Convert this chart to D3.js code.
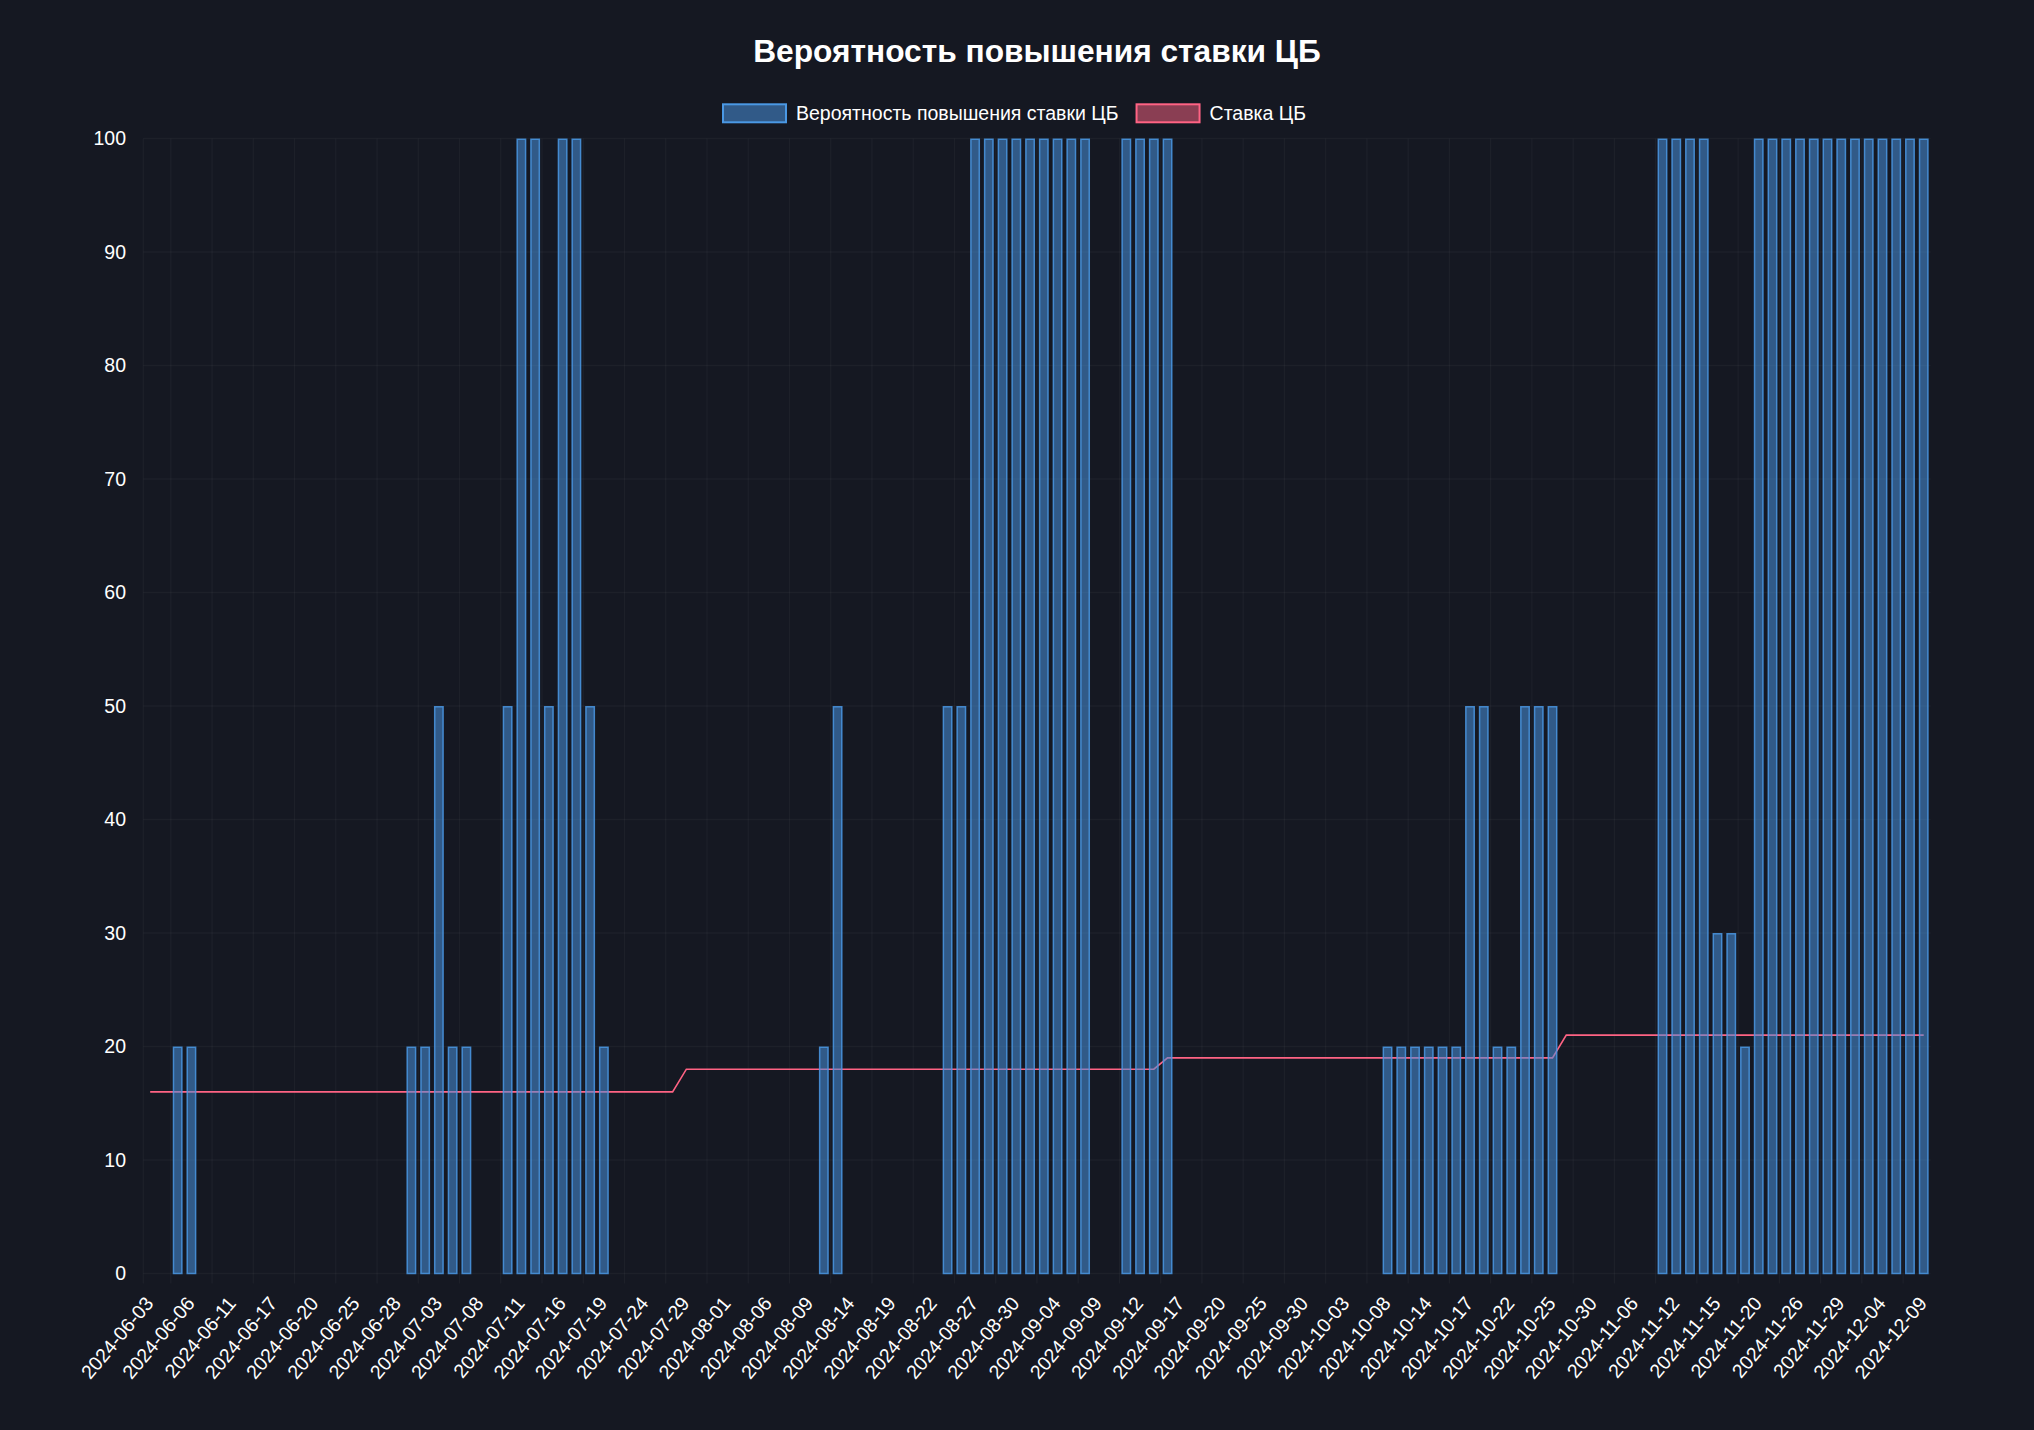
<!DOCTYPE html>
<html>
<head>
<meta charset="utf-8">
<script src="https://cdn.jsdelivr.net/npm/d3@7"></script>
<style>
  html, body { margin: 0; padding: 0; background: #151822; }
  svg { display: block; }
  text { font-family: "Liberation Sans", Arial, Helvetica, sans-serif; fill: #ffffff; }
</style>
</head>
<body>
<svg id="chart" width="2034" height="1430"></svg>
<script>
// ---------------- DATA ----------------
const chartTitle = "Вероятность повышения ставки ЦБ";
const seriesNames = ["Вероятность повышения ставки ЦБ", "Ставка ЦБ"];

const dates = [
  "2024-06-03","2024-06-04","2024-06-05","2024-06-06","2024-06-07","2024-06-10","2024-06-11","2024-06-13","2024-06-14","2024-06-17",
  "2024-06-18","2024-06-19","2024-06-20","2024-06-21","2024-06-24","2024-06-25","2024-06-26","2024-06-27","2024-06-28","2024-07-01",
  "2024-07-02","2024-07-03","2024-07-04","2024-07-05","2024-07-08","2024-07-09","2024-07-10","2024-07-11","2024-07-12","2024-07-15",
  "2024-07-16","2024-07-17","2024-07-18","2024-07-19","2024-07-22","2024-07-23","2024-07-24","2024-07-25","2024-07-26","2024-07-29",
  "2024-07-30","2024-07-31","2024-08-01","2024-08-02","2024-08-05","2024-08-06","2024-08-07","2024-08-08","2024-08-09","2024-08-12",
  "2024-08-13","2024-08-14","2024-08-15","2024-08-16","2024-08-19","2024-08-20","2024-08-21","2024-08-22","2024-08-23","2024-08-26",
  "2024-08-27","2024-08-28","2024-08-29","2024-08-30","2024-09-02","2024-09-03","2024-09-04","2024-09-05","2024-09-06","2024-09-09",
  "2024-09-10","2024-09-11","2024-09-12","2024-09-13","2024-09-16","2024-09-17","2024-09-18","2024-09-19","2024-09-20","2024-09-23",
  "2024-09-24","2024-09-25","2024-09-26","2024-09-27","2024-09-30","2024-10-01","2024-10-02","2024-10-03","2024-10-04","2024-10-07",
  "2024-10-08","2024-10-09","2024-10-10","2024-10-14","2024-10-15","2024-10-16","2024-10-17","2024-10-18","2024-10-21","2024-10-22",
  "2024-10-23","2024-10-24","2024-10-25","2024-10-28","2024-10-29","2024-10-30","2024-10-31","2024-11-05","2024-11-06","2024-11-07",
  "2024-11-11","2024-11-12","2024-11-13","2024-11-14","2024-11-15","2024-11-18","2024-11-19","2024-11-20","2024-11-21","2024-11-25",
  "2024-11-26","2024-11-27","2024-11-28","2024-11-29","2024-12-02","2024-12-03","2024-12-04","2024-12-05","2024-12-06","2024-12-09"
];

const probability = [
  0,0,20,20,0,0,0,0,0,0,
  0,0,0,0,0,0,0,0,0,20,
  20,50,20,20,0,0,50,100,100,50,
  100,100,50,20,0,0,0,0,0,0,
  0,0,0,0,0,0,0,0,0,20,
  50,0,0,0,0,0,0,0,50,50,
  100,100,100,100,100,100,100,100,100,0,
  0,100,100,100,100,0,0,0,0,0,
  0,0,0,0,0,0,0,0,0,0,
  20,20,20,20,20,20,50,50,20,20,
  50,50,50,0,0,0,0,0,0,0,
  100,100,100,100,30,30,20,100,100,100,
  100,100,100,100,100,100,100,100,100,100
];

const keyRate = [
  16,16,16,16,16,16,16,16,16,16,
  16,16,16,16,16,16,16,16,16,16,
  16,16,16,16,16,16,16,16,16,16,
  16,16,16,16,16,16,16,16,16,18,
  18,18,18,18,18,18,18,18,18,18,
  18,18,18,18,18,18,18,18,18,18,
  18,18,18,18,18,18,18,18,18,18,
  18,18,18,18,19,19,19,19,19,19,
  19,19,19,19,19,19,19,19,19,19,
  19,19,19,19,19,19,19,19,19,19,
  19,19,19,21,21,21,21,21,21,21,
  21,21,21,21,21,21,21,21,21,21,
  21,21,21,21,21,21,21,21,21,21
];

const yTicks = [0,10,20,30,40,50,60,70,80,90,100];
const xLabelStep = 3;

// ---------------- LAYOUT ----------------
const W = 2034, H = 1430;
const plot = { left: 143.3, right: 1930.6, top: 138.5, bottom: 1273.5 };
const colors = {
  bg: "#151822",
  grid: "rgba(255,255,255,0.035)",
  barFill: "rgba(72,145,220,0.55)",
  barStroke: "rgb(74,152,228)",
  lineStroke: "rgb(255,99,132)",
  lineFill: "rgba(255,99,132,0.5)"
};
const fontSize = 19.5;

const svg = d3.select("#chart");
svg.append("rect").attr("width", W).attr("height", H).attr("fill", colors.bg);

const x = d3.scaleBand().domain(dates).range([plot.left, plot.right]).padding(0);
const y = d3.scaleLinear().domain([0, 100]).range([plot.bottom, plot.top]);
const bw = x.bandwidth();

// grid (horizontal)
const gGrid = svg.append("g");
gGrid.selectAll("line.h").data(yTicks).join("line")
  .attr("x1", plot.left).attr("x2", plot.right)
  .attr("y1", d => y(d)).attr("y2", d => y(d))
  .attr("stroke", colors.grid).attr("stroke-width", 1.3);

// x ticks: every 3rd label; grid lines halfway between shown ticks (Chart.js offset grid)
const shownIdx = dates.map((d, i) => i).filter(i => i % xLabelStep === 0);
const gridIdx = shownIdx.filter(i => i > 0);
const gridX = i => x(dates[i]) + bw / 2 - bw * xLabelStep / 2;
gGrid.selectAll("line.v").data(gridIdx).join("line")
  .attr("x1", gridX).attr("x2", gridX)
  .attr("y1", plot.top).attr("y2", plot.bottom + 10)
  .attr("stroke", colors.grid).attr("stroke-width", 1.3);
// left border
gGrid.append("line")
  .attr("x1", plot.left).attr("x2", plot.left)
  .attr("y1", plot.top).attr("y2", plot.bottom + 10)
  .attr("stroke", colors.grid).attr("stroke-width", 1.3);

// y tick labels
svg.append("g").selectAll("text").data(yTicks).join("text")
  .attr("x", 126).attr("y", d => y(d))
  .attr("dy", "0.35em")
  .attr("text-anchor", "end")
  .attr("font-size", fontSize)
  .text(d => d);

// x tick labels
svg.append("g").selectAll("text").data(shownIdx).join("text")
  .attr("transform", i => `translate(${x(dates[i]) + bw / 2 - 1},${plot.bottom + 26}) rotate(-50)`)
  .attr("text-anchor", "end")
  .attr("dy", "0.35em")
  .attr("font-size", fontSize)
  .text(i => dates[i]);

// line (drawn beneath bars)
const lineGen = d3.line()
  .x((d, i) => x(dates[i]) + bw / 2)
  .y(d => y(d));
svg.append("path").datum(keyRate)
  .attr("d", lineGen)
  .attr("fill", "none")
  .attr("stroke", colors.lineStroke)
  .attr("stroke-width", 1.6);

// bars
const barW = bw * 0.72;
const sw = 1.5;
const barData = probability.map((v, i) => ({ v, i })).filter(d => d.v > 0);
svg.append("g").selectAll("rect").data(barData).join("rect")
  .attr("x", d => x(dates[d.i]) + (bw - barW) / 2 + sw / 2)
  .attr("width", barW - sw)
  .attr("y", d => y(d.v) + sw / 2)
  .attr("height", d => y(0) - y(d.v) - sw / 2)
  .attr("fill", colors.barFill)
  .attr("stroke", colors.barStroke)
  .attr("stroke-opacity", 0.85)
  .attr("stroke-width", sw);

// title
svg.append("text")
  .attr("x", 1037).attr("y", 62)
  .attr("text-anchor", "middle")
  .attr("font-size", 31.7)
  .attr("font-weight", "bold")
  .text(chartTitle);

// legend
const legendItems = [
  { name: seriesNames[0], fill: colors.barFill, stroke: colors.barStroke },
  { name: seriesNames[1], fill: colors.lineFill, stroke: colors.lineStroke }
];
const boxW = 65, boxH = 20, boxGap = 9, itemGap = 17, legendCx = 1014, legendCy = 113.3;
const gLeg = svg.append("g");
const items = gLeg.selectAll("g").data(legendItems).join("g");
items.append("rect")
  .attr("width", boxW - 2).attr("height", boxH - 2)
  .attr("x", 1).attr("y", legendCy - boxH / 2 + 1)
  .attr("fill", d => d.fill).attr("stroke", d => d.stroke).attr("stroke-width", 2);
items.append("text")
  .attr("x", boxW + boxGap).attr("y", legendCy)
  .attr("dy", "0.35em")
  .attr("font-size", fontSize)
  .text(d => d.name);
const widths = [];
items.each(function () {
  widths.push(boxW + boxGap + d3.select(this).select("text").node().getComputedTextLength());
});
const total = d3.sum(widths) + itemGap * (widths.length - 1);
let cur = legendCx - total / 2;
items.attr("transform", (d, i) => {
  const t = `translate(${cur},0)`;
  cur += widths[i] + itemGap;
  return t;
});
</script>
</body>
</html>
